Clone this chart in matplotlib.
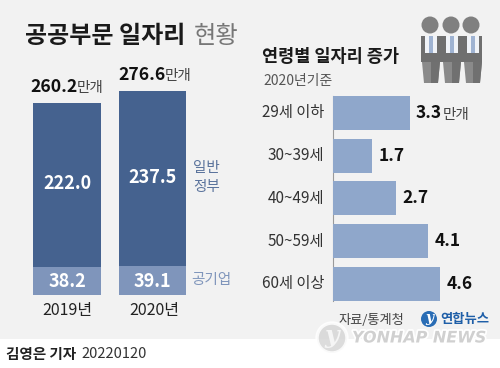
import matplotlib
matplotlib.use("Agg")
import matplotlib.pyplot as plt
from matplotlib.patches import Circle, Rectangle, Polygon
import matplotlib.patheffects as pe

plt.rcParams['font.family'] = ['Noto Sans CJK KR', 'DejaVu Sans']

years = ["2019년", "2020년"]
gov = [222.0, 237.5]
soe = [38.2, 39.1]
totals = ["260.2", "276.6"]

ages = ["29세 이하", "30~39세", "40~49세", "50~59세", "60세 이상"]
growth = [3.3, 1.7, 2.7, 4.1, 4.6]

W, H = 500, 368
BG = "#f2f2f2"
DARK = "#45628f"
MID = "#7f95bb"
LIGHT = "#8fa7cb"


def fx(x):
    return x / W


def fy(y):
    return 1 - y / H


def put(x, y, s, size, color="#222222", weight="normal", ha="left"):
    return fig.text(fx(x), fy(y), s, fontsize=size, color=color, fontweight=weight,
                    ha=ha, va="center")


fig = plt.figure(figsize=(5, 3.68), dpi=100, facecolor="white")
bg = fig.add_axes([0, 0, 1, 1])
bg.set_xlim(0, W)
bg.set_ylim(H, 0)
bg.axis("off")
bg.add_patch(Rectangle((0, 0), W, 339, color=BG, lw=0))

# left stacked bars
ax = fig.add_axes([fx(25), fy(295), fx(170), 204.5 / H])
ax.patch.set_alpha(0)
ax.set_xlim(-0.4956, 1.4985)
ax.set_ylim(0, 276.6 * 204.5 / 204)
ax.bar([0, 1], soe, width=0.792, color=MID)
ax.bar([0, 1], gov, width=0.792, bottom=soe, color=DARK)
ax.axis("off")
for i in range(2):
    ax.text(i, soe[i] / 2 - 1, f"{soe[i]:.1f}", color="white", fontsize=13,
            fontweight="bold", ha="center", va="center")
    ax.text(i, soe[i] + gov[i] / 2 + 2, f"{gov[i]:.1f}", color="white", fontsize=13,
            fontweight="bold", ha="center", va="center")

put(67.5, 311, years[0], 11.5, ha="center")
put(154, 311, years[1], 11.5, ha="center")

# headline
put(25, 36, "공공부문 일자리", 17.3, "#1a1a1a", "bold")
put(194, 36, "현황", 17.5, "#777777")

put(30, 87, totals[0], 12.7, "#111111", "bold")
put(77, 88, "만개", 10.5, "#444444")
put(118, 75, totals[1], 12.7, "#111111", "bold")
put(165, 76, "만개", 10.5, "#444444")

put(193, 168, "일반", 10.5, "#5a739c")
put(193, 187, "정부", 10.5, "#5a739c")
put(191, 280, "공기업", 10.5, "#7f95bb")

# right panel
put(262, 57, "연령별 일자리 증가", 12.6, "#1a1a1a", "bold")
put(263, 81, "2020년기준", 10, "#555555")

ax2 = fig.add_axes([fx(332.5), fy(307.9), fx(120), 218.9 / H])
ax2.patch.set_alpha(0)
ax2.set_xlim(0, 120 / 23.4)
ax2.set_ylim(4.56, -0.56)
ax2.barh(range(5), growth, height=0.795, color=LIGHT)
ax2.axis("off")
for i, v in enumerate(growth):
    ax2.text(v + 0.27, i, f"{v:.1f}", fontsize=12.5, fontweight="bold", color="#111111",
             ha="left", va="center")
    ax2.text(-0.36, i, ages[i], fontsize=11, color="#333333", ha="right", va="center")
put(443, 115, "만개", 10.5, "#444444")
bg.plot([332.5, 332.5], [96, 301], color="#9a9a9a", lw=0.8)

# people icon
for cx in (430, 451, 471):
    bg.add_patch(Circle((cx, 25), 8.5, color="#808080", lw=0))
bg.add_patch(Rectangle((421, 36), 61, 26, color="#6f6f6f", lw=0))
for left in (422, 443, 464):
    bg.add_patch(Polygon([(left, 62), (left + 18, 62), (left + 16, 83), (left + 2, 83)],
                         color="#8a8a8a", lw=0))
    bg.add_patch(Polygon([(left + 9, 62), (left + 18, 62), (left + 16, 83), (left + 9, 83)],
                         color="#707070", lw=0))
    bg.add_patch(Rectangle((left + 3, 36), 12, 17, color="#f0f3f8", lw=0))
    bg.add_patch(Rectangle((left + 7, 36), 4, 17, color="#9fb3d2", lw=0))

put(339, 321, "자료/통계청", 9.5, "#444444")

# footer
put(6, 354, "김영은 기자", 10.5, "#222222", "bold")
put(81, 354, "20220120", 10.5, "#333333")

# logo and watermark
bg.add_patch(Circle((429, 319), 8, color="#2a6db5", lw=0))
bg.text(429, 318, "y", color="white", fontsize=10, style="italic", fontweight="bold",
        family="DejaVu Serif", ha="center", va="center")
put(440, 319, "연합뉴스", 9.6, "#1f5fa8", "bold")

bg.add_patch(Circle((332, 338), 15, facecolor="#d6d6d6", edgecolor="white", lw=2.5, alpha=0.85))
bg.text(332, 336, "y", color="#f5f5f5", fontsize=18, style="italic", fontweight="bold",
        family="DejaVu Serif", ha="center", va="center")
wm = put(352, 338, "YONHAP NEWS", 11.5, "#d0d0d0", "bold")
wm.set_fontfamily("DejaVu Sans")
wm.set_fontstyle("italic")
wm.set_path_effects([pe.withStroke(linewidth=2.5, foreground="white")])

fig.savefig("out.png", dpi=100)
